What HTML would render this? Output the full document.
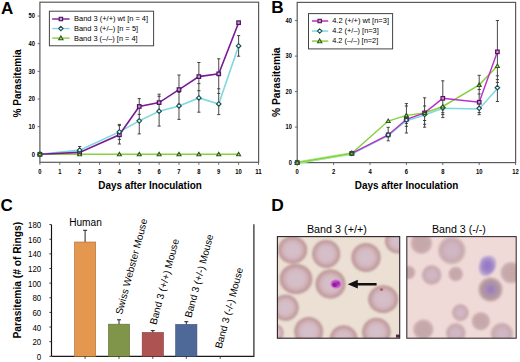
<!DOCTYPE html>
<html><head><meta charset="utf-8"><style>
html,body{margin:0;padding:0;background:#fff;width:520px;height:362px;overflow:hidden}
svg{display:block}
</style></head><body>
<svg width="520" height="362" viewBox="0 0 520 362">
<rect width="520" height="362" fill="#fff"/>
<text x="1.0" y="13.7" style="font-family:'Liberation Sans', sans-serif;font-weight:bold;font-size:17px">A</text>
<rect x="39.9" y="2.2" width="218.7" height="160.1" fill="none" stroke="#5a5a5a" stroke-width="1.2"/>
<line x1="37.6" y1="154.30" x2="39.9" y2="154.30" stroke="#5a5a5a" stroke-width="0.9"/>
<text x="34.9" y="156.60" text-anchor="end" textLength="3.25" lengthAdjust="spacingAndGlyphs" style="font-family:'Liberation Sans', sans-serif;font-weight:bold;font-size:6.6px">0</text>
<line x1="37.6" y1="126.65" x2="39.9" y2="126.65" stroke="#5a5a5a" stroke-width="0.9"/>
<text x="34.9" y="128.95" text-anchor="end" textLength="6.50" lengthAdjust="spacingAndGlyphs" style="font-family:'Liberation Sans', sans-serif;font-weight:bold;font-size:6.6px">10</text>
<line x1="37.6" y1="99.00" x2="39.9" y2="99.00" stroke="#5a5a5a" stroke-width="0.9"/>
<text x="34.9" y="101.30" text-anchor="end" textLength="6.50" lengthAdjust="spacingAndGlyphs" style="font-family:'Liberation Sans', sans-serif;font-weight:bold;font-size:6.6px">20</text>
<line x1="37.6" y1="71.35" x2="39.9" y2="71.35" stroke="#5a5a5a" stroke-width="0.9"/>
<text x="34.9" y="73.65" text-anchor="end" textLength="6.50" lengthAdjust="spacingAndGlyphs" style="font-family:'Liberation Sans', sans-serif;font-weight:bold;font-size:6.6px">30</text>
<line x1="37.6" y1="43.70" x2="39.9" y2="43.70" stroke="#5a5a5a" stroke-width="0.9"/>
<text x="34.9" y="46.00" text-anchor="end" textLength="6.50" lengthAdjust="spacingAndGlyphs" style="font-family:'Liberation Sans', sans-serif;font-weight:bold;font-size:6.6px">40</text>
<line x1="37.6" y1="16.05" x2="39.9" y2="16.05" stroke="#5a5a5a" stroke-width="0.9"/>
<text x="34.9" y="18.35" text-anchor="end" textLength="6.50" lengthAdjust="spacingAndGlyphs" style="font-family:'Liberation Sans', sans-serif;font-weight:bold;font-size:6.6px">50</text>
<line x1="39.90" y1="162.3" x2="39.90" y2="164.8" stroke="#5a5a5a" stroke-width="0.9"/>
<text x="39.90" y="173.5" text-anchor="middle" textLength="3.25" lengthAdjust="spacingAndGlyphs" style="font-family:'Liberation Sans', sans-serif;font-weight:bold;font-size:6.6px">0</text>
<line x1="59.77" y1="162.3" x2="59.77" y2="164.8" stroke="#5a5a5a" stroke-width="0.9"/>
<text x="59.77" y="173.5" text-anchor="middle" textLength="3.25" lengthAdjust="spacingAndGlyphs" style="font-family:'Liberation Sans', sans-serif;font-weight:bold;font-size:6.6px">1</text>
<line x1="79.64" y1="162.3" x2="79.64" y2="164.8" stroke="#5a5a5a" stroke-width="0.9"/>
<text x="79.64" y="173.5" text-anchor="middle" textLength="3.25" lengthAdjust="spacingAndGlyphs" style="font-family:'Liberation Sans', sans-serif;font-weight:bold;font-size:6.6px">2</text>
<line x1="99.51" y1="162.3" x2="99.51" y2="164.8" stroke="#5a5a5a" stroke-width="0.9"/>
<text x="99.51" y="173.5" text-anchor="middle" textLength="3.25" lengthAdjust="spacingAndGlyphs" style="font-family:'Liberation Sans', sans-serif;font-weight:bold;font-size:6.6px">3</text>
<line x1="119.38" y1="162.3" x2="119.38" y2="164.8" stroke="#5a5a5a" stroke-width="0.9"/>
<text x="119.38" y="173.5" text-anchor="middle" textLength="3.25" lengthAdjust="spacingAndGlyphs" style="font-family:'Liberation Sans', sans-serif;font-weight:bold;font-size:6.6px">4</text>
<line x1="139.25" y1="162.3" x2="139.25" y2="164.8" stroke="#5a5a5a" stroke-width="0.9"/>
<text x="139.25" y="173.5" text-anchor="middle" textLength="3.25" lengthAdjust="spacingAndGlyphs" style="font-family:'Liberation Sans', sans-serif;font-weight:bold;font-size:6.6px">5</text>
<line x1="159.12" y1="162.3" x2="159.12" y2="164.8" stroke="#5a5a5a" stroke-width="0.9"/>
<text x="159.12" y="173.5" text-anchor="middle" textLength="3.25" lengthAdjust="spacingAndGlyphs" style="font-family:'Liberation Sans', sans-serif;font-weight:bold;font-size:6.6px">6</text>
<line x1="178.99" y1="162.3" x2="178.99" y2="164.8" stroke="#5a5a5a" stroke-width="0.9"/>
<text x="178.99" y="173.5" text-anchor="middle" textLength="3.25" lengthAdjust="spacingAndGlyphs" style="font-family:'Liberation Sans', sans-serif;font-weight:bold;font-size:6.6px">7</text>
<line x1="198.86" y1="162.3" x2="198.86" y2="164.8" stroke="#5a5a5a" stroke-width="0.9"/>
<text x="198.86" y="173.5" text-anchor="middle" textLength="3.25" lengthAdjust="spacingAndGlyphs" style="font-family:'Liberation Sans', sans-serif;font-weight:bold;font-size:6.6px">8</text>
<line x1="218.73" y1="162.3" x2="218.73" y2="164.8" stroke="#5a5a5a" stroke-width="0.9"/>
<text x="218.73" y="173.5" text-anchor="middle" textLength="3.25" lengthAdjust="spacingAndGlyphs" style="font-family:'Liberation Sans', sans-serif;font-weight:bold;font-size:6.6px">9</text>
<line x1="238.60" y1="162.3" x2="238.60" y2="164.8" stroke="#5a5a5a" stroke-width="0.9"/>
<text x="238.60" y="173.5" text-anchor="middle" textLength="6.50" lengthAdjust="spacingAndGlyphs" style="font-family:'Liberation Sans', sans-serif;font-weight:bold;font-size:6.6px">10</text>
<line x1="258.47" y1="162.3" x2="258.47" y2="164.8" stroke="#5a5a5a" stroke-width="0.9"/>
<text x="258.47" y="173.5" text-anchor="middle" textLength="6.50" lengthAdjust="spacingAndGlyphs" style="font-family:'Liberation Sans', sans-serif;font-weight:bold;font-size:6.6px">11</text>
<text x="150" y="189.2" text-anchor="middle" textLength="103.5" lengthAdjust="spacingAndGlyphs" style="font-family:'Liberation Sans', sans-serif;font-weight:bold;font-size:10px">Days after Inoculation</text>
<text transform="translate(20.8 83.5) rotate(-90)" text-anchor="middle" textLength="68" lengthAdjust="spacingAndGlyphs" style="font-family:'Liberation Sans', sans-serif;font-weight:bold;font-size:10.3px">% Parasitemia</text>
<line x1="79.64" y1="146.50" x2="79.64" y2="153.90" stroke="#333" stroke-width="0.9"/><line x1="78.04" y1="146.50" x2="81.24" y2="146.50" stroke="#333" stroke-width="0.9"/>
<line x1="119.38" y1="124.40" x2="119.38" y2="144.00" stroke="#333" stroke-width="0.9"/><line x1="117.78" y1="124.40" x2="120.98" y2="124.40" stroke="#333" stroke-width="0.9"/><line x1="117.78" y1="125.60" x2="120.98" y2="125.60" stroke="#333" stroke-width="0.9"/><line x1="117.78" y1="139.40" x2="120.98" y2="139.40" stroke="#333" stroke-width="0.9"/><line x1="117.78" y1="144.00" x2="120.98" y2="144.00" stroke="#333" stroke-width="0.9"/>
<line x1="139.25" y1="98.60" x2="139.25" y2="133.90" stroke="#333" stroke-width="0.9"/><line x1="137.65" y1="98.60" x2="140.85" y2="98.60" stroke="#333" stroke-width="0.9"/><line x1="137.65" y1="107.70" x2="140.85" y2="107.70" stroke="#333" stroke-width="0.9"/><line x1="137.65" y1="114.40" x2="140.85" y2="114.40" stroke="#333" stroke-width="0.9"/><line x1="137.65" y1="133.90" x2="140.85" y2="133.90" stroke="#333" stroke-width="0.9"/>
<line x1="159.12" y1="94.20" x2="159.12" y2="126.10" stroke="#333" stroke-width="0.9"/><line x1="157.52" y1="94.20" x2="160.72" y2="94.20" stroke="#333" stroke-width="0.9"/><line x1="157.52" y1="96.30" x2="160.72" y2="96.30" stroke="#333" stroke-width="0.9"/><line x1="157.52" y1="111.00" x2="160.72" y2="111.00" stroke="#333" stroke-width="0.9"/><line x1="157.52" y1="126.10" x2="160.72" y2="126.10" stroke="#333" stroke-width="0.9"/>
<line x1="178.99" y1="75.00" x2="178.99" y2="119.40" stroke="#333" stroke-width="0.9"/><line x1="177.39" y1="75.00" x2="180.59" y2="75.00" stroke="#333" stroke-width="0.9"/><line x1="177.39" y1="92.40" x2="180.59" y2="92.40" stroke="#333" stroke-width="0.9"/><line x1="177.39" y1="104.20" x2="180.59" y2="104.20" stroke="#333" stroke-width="0.9"/><line x1="177.39" y1="119.40" x2="180.59" y2="119.40" stroke="#333" stroke-width="0.9"/>
<line x1="198.86" y1="62.50" x2="198.86" y2="112.20" stroke="#333" stroke-width="0.9"/><line x1="197.26" y1="62.50" x2="200.46" y2="62.50" stroke="#333" stroke-width="0.9"/><line x1="197.26" y1="83.60" x2="200.46" y2="83.60" stroke="#333" stroke-width="0.9"/><line x1="197.26" y1="90.70" x2="200.46" y2="90.70" stroke="#333" stroke-width="0.9"/><line x1="197.26" y1="112.20" x2="200.46" y2="112.20" stroke="#333" stroke-width="0.9"/>
<line x1="218.73" y1="58.80" x2="218.73" y2="114.60" stroke="#333" stroke-width="0.9"/><line x1="217.13" y1="58.80" x2="220.33" y2="58.80" stroke="#333" stroke-width="0.9"/><line x1="217.13" y1="88.80" x2="220.33" y2="88.80" stroke="#333" stroke-width="0.9"/><line x1="217.13" y1="93.40" x2="220.33" y2="93.40" stroke="#333" stroke-width="0.9"/><line x1="217.13" y1="114.60" x2="220.33" y2="114.60" stroke="#333" stroke-width="0.9"/>
<line x1="238.60" y1="35.60" x2="238.60" y2="56.20" stroke="#333" stroke-width="0.9"/><line x1="237.00" y1="35.60" x2="240.20" y2="35.60" stroke="#333" stroke-width="0.9"/><line x1="237.00" y1="56.20" x2="240.20" y2="56.20" stroke="#333" stroke-width="0.9"/>
<polyline points="39.90,154.30 79.64,154.30 119.38,154.30 139.25,154.30 159.12,154.30 178.99,154.30 198.86,154.30 218.73,154.30 238.60,154.30" fill="none" stroke="#88d040" stroke-width="1.6"/>
<polyline points="39.90,154.30 79.64,150.15 119.38,131.90 139.25,120.84 159.12,111.17 178.99,105.91 198.86,97.89 218.73,103.98 238.60,45.91" fill="none" stroke="#7fd8dc" stroke-width="1.6"/>
<polyline points="39.90,154.30 79.64,152.36 119.38,134.81 139.25,106.47 159.12,102.59 178.99,89.60 198.86,76.60 218.73,73.84 238.60,22.69" fill="none" stroke="#781c94" stroke-width="1.6"/>
<rect x="38.15" y="152.55" width="3.50" height="3.50" fill="#c8a0d4" stroke="#4e1264" stroke-width="1.25"/>
<rect x="77.89" y="150.61" width="3.50" height="3.50" fill="#c8a0d4" stroke="#4e1264" stroke-width="1.25"/>
<rect x="117.63" y="133.06" width="3.50" height="3.50" fill="#c8a0d4" stroke="#4e1264" stroke-width="1.25"/>
<rect x="137.50" y="104.72" width="3.50" height="3.50" fill="#c8a0d4" stroke="#4e1264" stroke-width="1.25"/>
<rect x="157.37" y="100.84" width="3.50" height="3.50" fill="#c8a0d4" stroke="#4e1264" stroke-width="1.25"/>
<rect x="177.24" y="87.85" width="3.50" height="3.50" fill="#c8a0d4" stroke="#4e1264" stroke-width="1.25"/>
<rect x="197.11" y="74.85" width="3.50" height="3.50" fill="#c8a0d4" stroke="#4e1264" stroke-width="1.25"/>
<rect x="216.98" y="72.09" width="3.50" height="3.50" fill="#c8a0d4" stroke="#4e1264" stroke-width="1.25"/>
<rect x="236.85" y="20.94" width="3.50" height="3.50" fill="#c8a0d4" stroke="#4e1264" stroke-width="1.25"/>
<path d="M39.90 152.03L42.17 154.30L39.90 156.58L37.62 154.30Z" fill="#e8fbfb" stroke="#1c4e50" stroke-width="1.15"/>
<path d="M79.64 147.88L81.92 150.15L79.64 152.43L77.36 150.15Z" fill="#e8fbfb" stroke="#1c4e50" stroke-width="1.15"/>
<path d="M119.38 129.63L121.66 131.90L119.38 134.18L117.10 131.90Z" fill="#e8fbfb" stroke="#1c4e50" stroke-width="1.15"/>
<path d="M139.25 118.57L141.53 120.84L139.25 123.12L136.97 120.84Z" fill="#e8fbfb" stroke="#1c4e50" stroke-width="1.15"/>
<path d="M159.12 108.89L161.40 111.17L159.12 113.44L156.84 111.17Z" fill="#e8fbfb" stroke="#1c4e50" stroke-width="1.15"/>
<path d="M178.99 103.64L181.27 105.91L178.99 108.19L176.72 105.91Z" fill="#e8fbfb" stroke="#1c4e50" stroke-width="1.15"/>
<path d="M198.86 95.62L201.14 97.89L198.86 100.17L196.59 97.89Z" fill="#e8fbfb" stroke="#1c4e50" stroke-width="1.15"/>
<path d="M218.73 101.70L221.01 103.98L218.73 106.25L216.46 103.98Z" fill="#e8fbfb" stroke="#1c4e50" stroke-width="1.15"/>
<path d="M238.60 43.64L240.88 45.91L238.60 48.19L236.33 45.91Z" fill="#e8fbfb" stroke="#1c4e50" stroke-width="1.15"/>
<path d="M39.90 152.30L41.90 155.80L37.90 155.80Z" fill="#bfe49a" stroke="#2c5a14" stroke-width="1.1"/>
<path d="M79.64 152.30L81.64 155.80L77.64 155.80Z" fill="#bfe49a" stroke="#2c5a14" stroke-width="1.1"/>
<path d="M119.38 152.30L121.38 155.80L117.38 155.80Z" fill="#bfe49a" stroke="#2c5a14" stroke-width="1.1"/>
<path d="M139.25 152.30L141.25 155.80L137.25 155.80Z" fill="#bfe49a" stroke="#2c5a14" stroke-width="1.1"/>
<path d="M159.12 152.30L161.12 155.80L157.12 155.80Z" fill="#bfe49a" stroke="#2c5a14" stroke-width="1.1"/>
<path d="M178.99 152.30L180.99 155.80L176.99 155.80Z" fill="#bfe49a" stroke="#2c5a14" stroke-width="1.1"/>
<path d="M198.86 152.30L200.86 155.80L196.86 155.80Z" fill="#bfe49a" stroke="#2c5a14" stroke-width="1.1"/>
<path d="M218.73 152.30L220.73 155.80L216.73 155.80Z" fill="#bfe49a" stroke="#2c5a14" stroke-width="1.1"/>
<path d="M238.60 152.30L240.60 155.80L236.60 155.80Z" fill="#bfe49a" stroke="#2c5a14" stroke-width="1.1"/>
<rect x="49.4" y="11.2" width="104.2" height="34.6" fill="#fff" stroke="#444" stroke-width="1"/>
<line x1="52.2" y1="19.00" x2="69.6" y2="19.00" stroke="#781c94" stroke-width="1.4"/>
<rect x="59.20" y="17.30" width="3.40" height="3.40" fill="#c8a0d4" stroke="#4e1264" stroke-width="1.1"/>
<text x="74" y="21.40" textLength="74.1" lengthAdjust="spacingAndGlyphs" style="font-family:'Liberation Sans', sans-serif;font-size:7.3px">Band 3 (+/+) wt [n = 4]</text>
<line x1="52.2" y1="28.55" x2="69.6" y2="28.55" stroke="#7fd8dc" stroke-width="1.4"/>
<path d="M60.90 26.34L63.11 28.55L60.90 30.76L58.69 28.55Z" fill="#e8fbfb" stroke="#1c4e50" stroke-width="1.1"/>
<text x="74" y="30.95" textLength="64.1" lengthAdjust="spacingAndGlyphs" style="font-family:'Liberation Sans', sans-serif;font-size:7.3px">Band 3 (+/–) [n = 5]</text>
<line x1="52.2" y1="38.10" x2="69.6" y2="38.10" stroke="#88d040" stroke-width="1.4"/>
<path d="M60.90 35.98L63.02 39.69L58.77 39.69Z" fill="#bfe49a" stroke="#2c5a14" stroke-width="1.1"/>
<text x="74" y="40.50" textLength="63.7" lengthAdjust="spacingAndGlyphs" style="font-family:'Liberation Sans', sans-serif;font-size:7.3px">Band 3 (–/–) [n = 4]</text>
<text x="271.2" y="13.0" style="font-family:'Liberation Sans', sans-serif;font-weight:bold;font-size:17.2px">B</text>
<rect x="297.2" y="2.4" width="218.4" height="160.2" fill="none" stroke="#5a5a5a" stroke-width="1.2"/>
<line x1="294.9" y1="162.60" x2="297.2" y2="162.60" stroke="#5a5a5a" stroke-width="0.9"/>
<text x="291.9" y="164.90" text-anchor="end" textLength="3.20" lengthAdjust="spacingAndGlyphs" style="font-family:'Liberation Sans', sans-serif;font-weight:bold;font-size:6.6px">0</text>
<line x1="294.9" y1="127.10" x2="297.2" y2="127.10" stroke="#5a5a5a" stroke-width="0.9"/>
<text x="291.9" y="129.40" text-anchor="end" textLength="6.40" lengthAdjust="spacingAndGlyphs" style="font-family:'Liberation Sans', sans-serif;font-weight:bold;font-size:6.6px">10</text>
<line x1="294.9" y1="91.60" x2="297.2" y2="91.60" stroke="#5a5a5a" stroke-width="0.9"/>
<text x="291.9" y="93.90" text-anchor="end" textLength="6.40" lengthAdjust="spacingAndGlyphs" style="font-family:'Liberation Sans', sans-serif;font-weight:bold;font-size:6.6px">20</text>
<line x1="294.9" y1="56.10" x2="297.2" y2="56.10" stroke="#5a5a5a" stroke-width="0.9"/>
<text x="291.9" y="58.40" text-anchor="end" textLength="6.40" lengthAdjust="spacingAndGlyphs" style="font-family:'Liberation Sans', sans-serif;font-weight:bold;font-size:6.6px">30</text>
<line x1="294.9" y1="20.60" x2="297.2" y2="20.60" stroke="#5a5a5a" stroke-width="0.9"/>
<text x="291.9" y="22.90" text-anchor="end" textLength="6.40" lengthAdjust="spacingAndGlyphs" style="font-family:'Liberation Sans', sans-serif;font-weight:bold;font-size:6.6px">40</text>
<line x1="297.20" y1="162.6" x2="297.20" y2="165.1" stroke="#5a5a5a" stroke-width="0.9"/>
<text x="297.20" y="173.5" text-anchor="middle" textLength="3.25" lengthAdjust="spacingAndGlyphs" style="font-family:'Liberation Sans', sans-serif;font-weight:bold;font-size:6.6px">0</text>
<line x1="333.60" y1="162.6" x2="333.60" y2="165.1" stroke="#5a5a5a" stroke-width="0.9"/>
<text x="333.60" y="173.5" text-anchor="middle" textLength="3.25" lengthAdjust="spacingAndGlyphs" style="font-family:'Liberation Sans', sans-serif;font-weight:bold;font-size:6.6px">2</text>
<line x1="370.00" y1="162.6" x2="370.00" y2="165.1" stroke="#5a5a5a" stroke-width="0.9"/>
<text x="370.00" y="173.5" text-anchor="middle" textLength="3.25" lengthAdjust="spacingAndGlyphs" style="font-family:'Liberation Sans', sans-serif;font-weight:bold;font-size:6.6px">4</text>
<line x1="406.40" y1="162.6" x2="406.40" y2="165.1" stroke="#5a5a5a" stroke-width="0.9"/>
<text x="406.40" y="173.5" text-anchor="middle" textLength="3.25" lengthAdjust="spacingAndGlyphs" style="font-family:'Liberation Sans', sans-serif;font-weight:bold;font-size:6.6px">6</text>
<line x1="442.80" y1="162.6" x2="442.80" y2="165.1" stroke="#5a5a5a" stroke-width="0.9"/>
<text x="442.80" y="173.5" text-anchor="middle" textLength="3.25" lengthAdjust="spacingAndGlyphs" style="font-family:'Liberation Sans', sans-serif;font-weight:bold;font-size:6.6px">8</text>
<line x1="479.20" y1="162.6" x2="479.20" y2="165.1" stroke="#5a5a5a" stroke-width="0.9"/>
<text x="479.20" y="173.5" text-anchor="middle" textLength="6.50" lengthAdjust="spacingAndGlyphs" style="font-family:'Liberation Sans', sans-serif;font-weight:bold;font-size:6.6px">10</text>
<line x1="515.60" y1="162.6" x2="515.60" y2="165.1" stroke="#5a5a5a" stroke-width="0.9"/>
<text x="515.60" y="173.5" text-anchor="middle" textLength="6.50" lengthAdjust="spacingAndGlyphs" style="font-family:'Liberation Sans', sans-serif;font-weight:bold;font-size:6.6px">12</text>
<text x="406.5" y="189.2" text-anchor="middle" textLength="103.5" lengthAdjust="spacingAndGlyphs" style="font-family:'Liberation Sans', sans-serif;font-weight:bold;font-size:10px">Days after Inoculation</text>
<text transform="translate(279.6 82.2) rotate(-90)" text-anchor="middle" textLength="69.5" lengthAdjust="spacingAndGlyphs" style="font-family:'Liberation Sans', sans-serif;font-weight:bold;font-size:10.4px">% Parasitemia</text>
<line x1="388.20" y1="127.30" x2="388.20" y2="140.80" stroke="#333" stroke-width="0.9"/><line x1="386.60" y1="127.30" x2="389.80" y2="127.30" stroke="#333" stroke-width="0.9"/><line x1="386.60" y1="140.80" x2="389.80" y2="140.80" stroke="#333" stroke-width="0.9"/>
<line x1="406.40" y1="103.60" x2="406.40" y2="133.00" stroke="#333" stroke-width="0.9"/><line x1="404.80" y1="103.60" x2="408.00" y2="103.60" stroke="#333" stroke-width="0.9"/><line x1="404.80" y1="106.00" x2="408.00" y2="106.00" stroke="#333" stroke-width="0.9"/><line x1="404.80" y1="123.40" x2="408.00" y2="123.40" stroke="#333" stroke-width="0.9"/><line x1="404.80" y1="126.30" x2="408.00" y2="126.30" stroke="#333" stroke-width="0.9"/><line x1="404.80" y1="133.00" x2="408.00" y2="133.00" stroke="#333" stroke-width="0.9"/>
<line x1="424.60" y1="97.80" x2="424.60" y2="127.20" stroke="#333" stroke-width="0.9"/><line x1="423.00" y1="97.80" x2="426.20" y2="97.80" stroke="#333" stroke-width="0.9"/><line x1="423.00" y1="106.00" x2="426.20" y2="106.00" stroke="#333" stroke-width="0.9"/><line x1="423.00" y1="120.50" x2="426.20" y2="120.50" stroke="#333" stroke-width="0.9"/><line x1="423.00" y1="124.30" x2="426.20" y2="124.30" stroke="#333" stroke-width="0.9"/><line x1="423.00" y1="127.20" x2="426.20" y2="127.20" stroke="#333" stroke-width="0.9"/>
<line x1="442.80" y1="80.80" x2="442.80" y2="117.60" stroke="#333" stroke-width="0.9"/><line x1="441.20" y1="80.80" x2="444.40" y2="80.80" stroke="#333" stroke-width="0.9"/><line x1="441.20" y1="96.50" x2="444.40" y2="96.50" stroke="#333" stroke-width="0.9"/><line x1="441.20" y1="109.80" x2="444.40" y2="109.80" stroke="#333" stroke-width="0.9"/><line x1="441.20" y1="112.70" x2="444.40" y2="112.70" stroke="#333" stroke-width="0.9"/><line x1="441.20" y1="114.60" x2="444.40" y2="114.60" stroke="#333" stroke-width="0.9"/><line x1="441.20" y1="117.60" x2="444.40" y2="117.60" stroke="#333" stroke-width="0.9"/>
<line x1="479.20" y1="75.30" x2="479.20" y2="114.70" stroke="#333" stroke-width="0.9"/><line x1="477.60" y1="75.30" x2="480.80" y2="75.30" stroke="#333" stroke-width="0.9"/><line x1="477.60" y1="89.50" x2="480.80" y2="89.50" stroke="#333" stroke-width="0.9"/><line x1="477.60" y1="94.00" x2="480.80" y2="94.00" stroke="#333" stroke-width="0.9"/><line x1="477.60" y1="112.50" x2="480.80" y2="112.50" stroke="#333" stroke-width="0.9"/><line x1="477.60" y1="114.70" x2="480.80" y2="114.70" stroke="#333" stroke-width="0.9"/>
<line x1="497.40" y1="20.50" x2="497.40" y2="101.50" stroke="#333" stroke-width="0.9"/><line x1="495.80" y1="20.50" x2="499.00" y2="20.50" stroke="#333" stroke-width="0.9"/><line x1="495.80" y1="75.80" x2="499.00" y2="75.80" stroke="#333" stroke-width="0.9"/><line x1="495.80" y1="79.60" x2="499.00" y2="79.60" stroke="#333" stroke-width="0.9"/><line x1="495.80" y1="82.40" x2="499.00" y2="82.40" stroke="#333" stroke-width="0.9"/><line x1="495.80" y1="101.50" x2="499.00" y2="101.50" stroke="#333" stroke-width="0.9"/>
<polyline points="297.20,163.30 351.80,154.07 388.20,135.61 406.40,120.70 424.60,115.02 442.80,108.27 479.20,108.98 497.40,88.39" fill="none" stroke="#7fd8dc" stroke-width="1.5"/>
<polyline points="297.20,162.60 351.80,153.37 388.20,121.06 406.40,115.38 424.60,112.90 442.80,106.51 479.20,84.86 497.40,66.04" fill="none" stroke="#88d040" stroke-width="1.5"/>
<polyline points="297.20,162.60 351.80,153.37 388.20,134.91 406.40,119.29 424.60,112.90 442.80,98.34 479.20,102.25 497.40,51.84" fill="none" stroke="#bb2cc8" stroke-width="1.4"/>
<line x1="297.20" y1="162.60" x2="351.80" y2="153.37" stroke="#b4ec90" stroke-width="2.6"/>
<line x1="297.20" y1="162.60" x2="351.80" y2="153.37" stroke="#7ed23a" stroke-width="1.4"/>
<rect x="295.45" y="160.85" width="3.50" height="3.50" fill="#c8a0d4" stroke="#5e105e" stroke-width="1.25"/>
<rect x="350.05" y="151.62" width="3.50" height="3.50" fill="#c8a0d4" stroke="#5e105e" stroke-width="1.25"/>
<rect x="386.45" y="133.16" width="3.50" height="3.50" fill="#c8a0d4" stroke="#5e105e" stroke-width="1.25"/>
<rect x="404.65" y="117.54" width="3.50" height="3.50" fill="#c8a0d4" stroke="#5e105e" stroke-width="1.25"/>
<rect x="422.85" y="111.15" width="3.50" height="3.50" fill="#c8a0d4" stroke="#5e105e" stroke-width="1.25"/>
<rect x="441.05" y="96.59" width="3.50" height="3.50" fill="#c8a0d4" stroke="#5e105e" stroke-width="1.25"/>
<rect x="477.45" y="100.50" width="3.50" height="3.50" fill="#c8a0d4" stroke="#5e105e" stroke-width="1.25"/>
<rect x="495.65" y="50.09" width="3.50" height="3.50" fill="#c8a0d4" stroke="#5e105e" stroke-width="1.25"/>
<path d="M297.20 160.32L299.47 162.60L297.20 164.88L294.93 162.60Z" fill="#e8fbfb" stroke="#1c4e50" stroke-width="1.15"/>
<path d="M351.80 151.09L354.07 153.37L351.80 155.65L349.52 153.37Z" fill="#e8fbfb" stroke="#1c4e50" stroke-width="1.15"/>
<path d="M388.20 132.63L390.47 134.91L388.20 137.19L385.93 134.91Z" fill="#e8fbfb" stroke="#1c4e50" stroke-width="1.15"/>
<path d="M406.40 117.72L408.67 120.00L406.40 122.28L404.12 120.00Z" fill="#e8fbfb" stroke="#1c4e50" stroke-width="1.15"/>
<path d="M424.60 112.04L426.87 114.32L424.60 116.59L422.32 114.32Z" fill="#e8fbfb" stroke="#1c4e50" stroke-width="1.15"/>
<path d="M442.80 105.30L445.07 107.57L442.80 109.85L440.52 107.57Z" fill="#e8fbfb" stroke="#1c4e50" stroke-width="1.15"/>
<path d="M479.20 106.01L481.47 108.28L479.20 110.56L476.93 108.28Z" fill="#e8fbfb" stroke="#1c4e50" stroke-width="1.15"/>
<path d="M497.40 85.42L499.67 87.69L497.40 89.97L495.12 87.69Z" fill="#e8fbfb" stroke="#1c4e50" stroke-width="1.15"/>
<path d="M297.20 160.60L299.20 164.10L295.20 164.10Z" fill="#bfe49a" stroke="#2c5a14" stroke-width="1.1"/>
<path d="M351.80 151.37L353.80 154.87L349.80 154.87Z" fill="#bfe49a" stroke="#2c5a14" stroke-width="1.1"/>
<path d="M388.20 119.06L390.20 122.56L386.20 122.56Z" fill="#bfe49a" stroke="#2c5a14" stroke-width="1.1"/>
<path d="M406.40 113.38L408.40 116.88L404.40 116.88Z" fill="#bfe49a" stroke="#2c5a14" stroke-width="1.1"/>
<path d="M424.60 110.90L426.60 114.40L422.60 114.40Z" fill="#bfe49a" stroke="#2c5a14" stroke-width="1.1"/>
<path d="M442.80 104.51L444.80 108.01L440.80 108.01Z" fill="#bfe49a" stroke="#2c5a14" stroke-width="1.1"/>
<path d="M479.20 82.86L481.20 86.36L477.20 86.36Z" fill="#bfe49a" stroke="#2c5a14" stroke-width="1.1"/>
<path d="M497.40 64.04L499.40 67.54L495.40 67.54Z" fill="#bfe49a" stroke="#2c5a14" stroke-width="1.1"/>
<rect x="308.5" y="13.6" width="84.1" height="35.3" fill="#fff" stroke="#444" stroke-width="1"/>
<line x1="312" y1="21.00" x2="328.2" y2="21.00" stroke="#bb2cc8" stroke-width="1.5"/>
<rect x="318.00" y="19.30" width="3.40" height="3.40" fill="#c8a0d4" stroke="#5e105e" stroke-width="1.1"/>
<text x="332.2" y="23.30" textLength="56.8" lengthAdjust="spacingAndGlyphs" style="font-family:'Liberation Sans', sans-serif;font-size:7.6px">4.2 (+/+) wt [n=3]</text>
<line x1="312" y1="31.05" x2="328.2" y2="31.05" stroke="#7fd8dc" stroke-width="1.5"/>
<path d="M319.70 28.84L321.91 31.05L319.70 33.26L317.49 31.05Z" fill="#e8fbfb" stroke="#1c4e50" stroke-width="1.1"/>
<text x="332.2" y="33.35" textLength="46.6" lengthAdjust="spacingAndGlyphs" style="font-family:'Liberation Sans', sans-serif;font-size:7.6px">4.2 (+/–) [n=3]</text>
<line x1="312" y1="41.10" x2="328.2" y2="41.10" stroke="#88d040" stroke-width="1.5"/>
<path d="M319.70 38.98L321.82 42.69L317.57 42.69Z" fill="#bfe49a" stroke="#2c5a14" stroke-width="1.1"/>
<text x="332.2" y="43.40" textLength="46.0" lengthAdjust="spacingAndGlyphs" style="font-family:'Liberation Sans', sans-serif;font-size:7.6px">4.2 (–/–) [n=2]</text>
<text x="0.5" y="211.4" style="font-family:'Liberation Sans', sans-serif;font-weight:bold;font-size:17px">C</text>
<line x1="51.5" y1="224.59" x2="51.5" y2="356.3" stroke="#111" stroke-width="1.15"/>
<polyline points="51.5,356.3 253.9,356.3 253.9,224.2" fill="none" stroke="#1a1a1a" stroke-width="1.15"/>
<line x1="49.4" y1="356.30" x2="51.5" y2="356.30" stroke="#222" stroke-width="0.9"/>
<text x="41.2" y="359.90" text-anchor="end" textLength="4.4" lengthAdjust="spacingAndGlyphs" style="font-family:'Liberation Sans', sans-serif;font-size:8.6px">0</text>
<line x1="49.4" y1="341.67" x2="51.5" y2="341.67" stroke="#222" stroke-width="0.9"/>
<text x="41.2" y="345.27" text-anchor="end" textLength="8.8" lengthAdjust="spacingAndGlyphs" style="font-family:'Liberation Sans', sans-serif;font-size:8.6px">20</text>
<line x1="49.4" y1="327.03" x2="51.5" y2="327.03" stroke="#222" stroke-width="0.9"/>
<text x="41.2" y="330.63" text-anchor="end" textLength="8.8" lengthAdjust="spacingAndGlyphs" style="font-family:'Liberation Sans', sans-serif;font-size:8.6px">40</text>
<line x1="49.4" y1="312.40" x2="51.5" y2="312.40" stroke="#222" stroke-width="0.9"/>
<text x="41.2" y="316.00" text-anchor="end" textLength="8.8" lengthAdjust="spacingAndGlyphs" style="font-family:'Liberation Sans', sans-serif;font-size:8.6px">60</text>
<line x1="49.4" y1="297.76" x2="51.5" y2="297.76" stroke="#222" stroke-width="0.9"/>
<text x="41.2" y="301.36" text-anchor="end" textLength="8.8" lengthAdjust="spacingAndGlyphs" style="font-family:'Liberation Sans', sans-serif;font-size:8.6px">80</text>
<line x1="49.4" y1="283.13" x2="51.5" y2="283.13" stroke="#222" stroke-width="0.9"/>
<text x="41.2" y="286.73" text-anchor="end" textLength="13.2" lengthAdjust="spacingAndGlyphs" style="font-family:'Liberation Sans', sans-serif;font-size:8.6px">100</text>
<line x1="49.4" y1="268.50" x2="51.5" y2="268.50" stroke="#222" stroke-width="0.9"/>
<text x="41.2" y="272.10" text-anchor="end" textLength="13.2" lengthAdjust="spacingAndGlyphs" style="font-family:'Liberation Sans', sans-serif;font-size:8.6px">120</text>
<line x1="49.4" y1="253.86" x2="51.5" y2="253.86" stroke="#222" stroke-width="0.9"/>
<text x="41.2" y="257.46" text-anchor="end" textLength="13.2" lengthAdjust="spacingAndGlyphs" style="font-family:'Liberation Sans', sans-serif;font-size:8.6px">140</text>
<line x1="49.4" y1="239.23" x2="51.5" y2="239.23" stroke="#222" stroke-width="0.9"/>
<text x="41.2" y="242.83" text-anchor="end" textLength="13.2" lengthAdjust="spacingAndGlyphs" style="font-family:'Liberation Sans', sans-serif;font-size:8.6px">160</text>
<line x1="49.4" y1="224.59" x2="51.5" y2="224.59" stroke="#222" stroke-width="0.9"/>
<text x="41.2" y="228.19" text-anchor="end" textLength="13.2" lengthAdjust="spacingAndGlyphs" style="font-family:'Liberation Sans', sans-serif;font-size:8.6px">180</text>
<text transform="translate(20.9 280.2) rotate(-90)" text-anchor="middle" textLength="116.5" lengthAdjust="spacingAndGlyphs" style="font-family:'Liberation Sans', sans-serif;font-weight:bold;font-size:10.2px">Parasitemia (# of Rings)</text>
<line x1="85.10" y1="230.30" x2="85.10" y2="242.01" stroke="#222" stroke-width="1"/>
<line x1="83.10" y1="230.30" x2="87.10" y2="230.30" stroke="#222" stroke-width="1"/>
<rect x="74.50" y="242.01" width="21.2" height="114.29" fill="#e4974f" stroke="#b06a30" stroke-width="0.6"/>
<line x1="119.00" y1="319.79" x2="119.00" y2="324.18" stroke="#222" stroke-width="1"/>
<line x1="117.00" y1="319.79" x2="121.00" y2="319.79" stroke="#222" stroke-width="1"/>
<rect x="108.40" y="324.18" width="21.2" height="32.12" fill="#80944a" stroke="#5a6e30" stroke-width="0.6"/>
<line x1="152.80" y1="330.62" x2="152.80" y2="332.52" stroke="#222" stroke-width="1"/>
<line x1="150.80" y1="330.62" x2="154.80" y2="330.62" stroke="#222" stroke-width="1"/>
<rect x="142.20" y="332.52" width="21.2" height="23.78" fill="#ad5351" stroke="#7e3434" stroke-width="0.6"/>
<line x1="186.30" y1="321.69" x2="186.30" y2="324.47" stroke="#222" stroke-width="1"/>
<line x1="184.30" y1="321.69" x2="188.30" y2="321.69" stroke="#222" stroke-width="1"/>
<rect x="175.70" y="324.47" width="21.2" height="31.83" fill="#4e6898" stroke="#324a76" stroke-width="0.6"/>
<line x1="85.10" y1="356.3" x2="85.10" y2="358.8" stroke="#333" stroke-width="0.9"/>
<line x1="119.00" y1="356.3" x2="119.00" y2="358.8" stroke="#333" stroke-width="0.9"/>
<line x1="152.80" y1="356.3" x2="152.80" y2="358.8" stroke="#333" stroke-width="0.9"/>
<line x1="186.30" y1="356.3" x2="186.30" y2="358.8" stroke="#333" stroke-width="0.9"/>
<line x1="220.20" y1="356.3" x2="220.20" y2="358.8" stroke="#333" stroke-width="0.9"/>
<text x="85.5" y="225.6" text-anchor="middle" textLength="32.6" lengthAdjust="spacingAndGlyphs" style="font-family:'Liberation Sans', sans-serif;font-size:10px">Human</text>
<text transform="translate(122.0 315.1) rotate(-75)" style="font-family:'Liberation Sans', sans-serif;font-size:10px">Swiss Webster Mouse</text>
<text transform="translate(156.2 325.3) rotate(-75)" style="font-family:'Liberation Sans', sans-serif;font-size:10px">Band 3 (+/+) Mouse</text>
<text transform="translate(191.3 318.3) rotate(-75)" style="font-family:'Liberation Sans', sans-serif;font-size:10px">Band 3 (+/-) Mouse</text>
<text transform="translate(221.6 349.1) rotate(-75)" style="font-family:'Liberation Sans', sans-serif;font-size:10px">Band 3 (-/-) Mouse</text>
<text x="271.3" y="211.1" style="font-family:'Liberation Sans', sans-serif;font-weight:bold;font-size:17.4px">D</text>
<text x="336.9" y="232.6" text-anchor="middle" textLength="60" lengthAdjust="spacingAndGlyphs" style="font-family:'Liberation Sans', sans-serif;font-size:10px">Band 3 (+/+)</text>
<text x="458.9" y="232.7" text-anchor="middle" textLength="53.8" lengthAdjust="spacingAndGlyphs" style="font-family:'Liberation Sans', sans-serif;font-size:10px">Band 3 (-/-)</text>
<defs><filter id="bl" x="-5%" y="-5%" width="110%" height="110%"><feGaussianBlur stdDeviation="0.9"/></filter><filter id="bl2" x="-30%" y="-30%" width="160%" height="160%"><feGaussianBlur stdDeviation="0.7"/></filter><radialGradient id="c1" cx="50%" cy="50%" r="50%"><stop offset="0" stop-color="#d3c1cd"/><stop offset="0.5" stop-color="#d5bcc4"/><stop offset="0.74" stop-color="#cdabb1"/><stop offset="0.88" stop-color="#bd9698"/><stop offset="0.96" stop-color="#c6a4a2"/><stop offset="1" stop-color="#dccdc6"/></radialGradient><radialGradient id="c2" cx="50%" cy="50%" r="50%"><stop offset="0" stop-color="#cfb8c8"/><stop offset="0.45" stop-color="#cfb5c0"/><stop offset="0.8" stop-color="#c8a9ae"/><stop offset="1" stop-color="#dec4c4"/></radialGradient><radialGradient id="c3" cx="50%" cy="50%" r="50%"><stop offset="0" stop-color="#c4a8ac"/><stop offset="0.5" stop-color="#c7a8a8"/><stop offset="0.85" stop-color="#cbacb0"/><stop offset="1" stop-color="#e0c8c8"/></radialGradient><radialGradient id="c4" cx="50%" cy="50%" r="50%"><stop offset="0" stop-color="#9478b8"/><stop offset="0.4" stop-color="#a88cb4"/><stop offset="0.75" stop-color="#b4989c"/><stop offset="1" stop-color="#d2b8b8"/></radialGradient><radialGradient id="par" cx="50%" cy="50%" r="50%"><stop offset="0" stop-color="#a02cb0"/><stop offset="0.55" stop-color="#bb4ec4"/><stop offset="0.85" stop-color="#d58ad2"/><stop offset="1" stop-color="#dcb0d0" stop-opacity="0"/></radialGradient><radialGradient id="pb" cx="50%" cy="50%" r="50%"><stop offset="0" stop-color="#9074c2"/><stop offset="0.6" stop-color="#a088c8"/><stop offset="1" stop-color="#c4b0d2"/></radialGradient><clipPath id="k1"><rect x="277.4" y="236.6" width="122.3" height="101.6"/></clipPath><clipPath id="k2"><rect x="406.8" y="236.6" width="109.4" height="101.6"/></clipPath></defs>
<g clip-path="url(#k1)"><rect x="277.4" y="236.6" width="122.3" height="101.6" fill="#ebe0d3"/><g filter="url(#bl)">
<ellipse cx="292.6" cy="250.0" rx="15.0" ry="14.0" fill="url(#c1)"/>
<ellipse cx="326.2" cy="253.9" rx="14.4" ry="14.4" fill="url(#c1)"/>
<ellipse cx="366.0" cy="257.5" rx="15.0" ry="14.8" fill="url(#c1)"/>
<ellipse cx="398.0" cy="241.0" rx="13.3" ry="12.8" fill="url(#c1)"/>
<ellipse cx="296.0" cy="279.0" rx="16.8" ry="15.4" fill="url(#c1)"/>
<ellipse cx="330.5" cy="284.0" rx="15.4" ry="15.0" fill="url(#c1)"/>
<ellipse cx="383.2" cy="299.2" rx="15.4" ry="14.200000000000001" fill="url(#c1)"/>
<ellipse cx="285.6" cy="307.7" rx="13.4" ry="13.4" fill="url(#c1)"/>
<ellipse cx="308.7" cy="331.5" rx="14.8" ry="14.8" fill="url(#c1)"/>
<ellipse cx="343.6" cy="339.0" rx="14.200000000000001" ry="14.0" fill="url(#c1)"/>
<ellipse cx="376.4" cy="332.0" rx="14.600000000000001" ry="14.600000000000001" fill="url(#c1)"/>
<ellipse cx="276" cy="333" rx="7.8" ry="8.8" fill="url(#c1)"/>
</g><g filter="url(#bl2)"><ellipse cx="336.0" cy="284.0" rx="6.4" ry="5.2" fill="url(#par)"/><ellipse cx="334.6" cy="284.8" rx="2.4" ry="2.1" fill="#901c9e"/><ellipse cx="338.0" cy="282.9" rx="1.7" ry="1.5" fill="#a02eae"/></g>
<path d="M347.7 284.2L357.8 279.8L357.8 283L376.6 283L376.6 285.6L357.8 285.6L357.8 288.6Z" fill="#111"/>
<rect x="396.0" y="334.6" width="4" height="3" fill="#4a2848"/>
<ellipse cx="381.5" cy="289.6" rx="1.6" ry="1.4" fill="#a0605e" filter="url(#bl2)"/>
</g><rect x="277.4" y="236.6" width="122.3" height="101.6" fill="none" stroke="#2a2226" stroke-width="1.1"/>
<g clip-path="url(#k2)"><rect x="406.8" y="236.6" width="109.4" height="101.6" fill="#f0dad8"/><g filter="url(#bl)">
<circle cx="421.4" cy="243.2" r="11" fill="url(#c3)"/>
<circle cx="451.8" cy="250.5" r="14.0" fill="url(#c2)"/>
<circle cx="408.5" cy="272.5" r="7" fill="url(#c3)"/>
<circle cx="431.7" cy="275" r="10.2" fill="url(#c2)"/>
<circle cx="455.7" cy="274" r="7.5" fill="url(#c3)"/>
<circle cx="511.2" cy="272.7" r="11" fill="url(#c3)"/>
<circle cx="490.5" cy="289.5" r="12.2" fill="url(#c4)"/>
<circle cx="460.4" cy="312.6" r="8.8" fill="url(#c2)"/>
<circle cx="480.8" cy="321.2" r="9.4" fill="url(#c3)"/>
<circle cx="423.3" cy="329.5" r="10.4" fill="url(#c3)"/>
<circle cx="455.8" cy="333" r="10.2" fill="url(#c2)"/>
<circle cx="501.9" cy="334" r="11.5" fill="url(#c2)"/>
<path d="M481 259 C486 254 495 255 496 261 C497 268 493 274 487 276 C481 277 478 272 479 266 Z" fill="url(#pb)"/>
</g>
</g><rect x="406.8" y="236.6" width="109.4" height="101.6" fill="none" stroke="#3a3236" stroke-width="1.1"/>
</svg>
</body></html>
